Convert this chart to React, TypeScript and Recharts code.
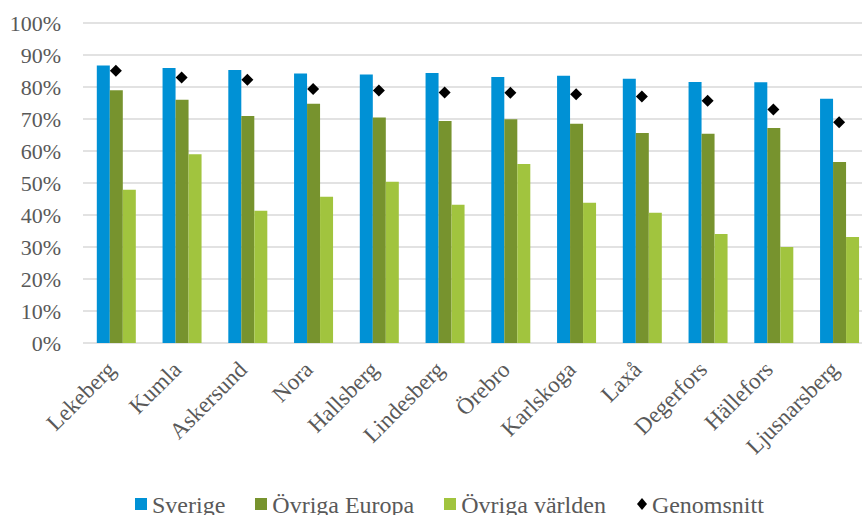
import React from "react";
import { Bar, ComposedChart, Line, XAxis, YAxis, CartesianGrid, Legend } from "recharts";

const categories = ["Lekeberg", "Kumla", "Askersund", "Nora", "Hallsberg", "Lindesberg", "Örebro", "Karlskoga", "Laxå", "Degerfors", "Hällefors", "Ljusnarsberg"];
const sverige = [86.7, 85.9, 85.3, 84.2, 83.9, 84.4, 83.1, 83.5, 82.6, 81.6, 81.5, 76.3];
const ovrigaEuropa = [79.0, 76.0, 70.9, 74.8, 70.5, 69.4, 69.9, 68.5, 65.6, 65.4, 67.2, 56.6];
const ovrigaVarlden = [47.9, 59.0, 41.3, 45.7, 50.4, 43.2, 55.9, 43.8, 40.7, 34.1, 30.0, 33.1];
const genomsnitt = [85.1, 83.0, 82.3, 79.4, 78.9, 78.3, 78.2, 77.7, 77.0, 75.7, 73.0, 69.0];
const yTicks = [0, 10, 20, 30, 40, 50, 60, 70, 80, 90, 100];

const FONT = "Liberation Serif, Times New Roman, DejaVu Serif, serif";
const TEXT = "#595959";
const series = [
  { key: "sverige", name: "Sverige", color: "#0091D5" },
  { key: "europa", name: "Övriga Europa", color: "#77932E" },
  { key: "varlden", name: "Övriga världen", color: "#A1C43E" },
];

const data = categories.map((c, i) => ({
  name: c,
  sverige: sverige[i],
  europa: ovrigaEuropa[i],
  varlden: ovrigaVarlden[i],
  snitt: genomsnitt[i],
}));

function Diamond(props: any) {
  const { cx, cy, index } = props;
  if (cx == null || cy == null) return null;
  const r = 6;
  return <path key={index} d={`M${cx},${cy - r}L${cx + r},${cy}L${cx},${cy + r}L${cx - r},${cy}Z`} fill="#000" />;
}

// rotated category label, baseline end placed just below-right of the tick
function CityTick(props: any) {
  const { x, y, payload } = props;
  return (
    <g transform={`translate(${x + 1},${y + 20})`}>
      <text transform="rotate(-45)" textAnchor="end" fontFamily={FONT} fontSize={23} fill={TEXT}>
        {payload.value}
      </text>
    </g>
  );
}

function LegendContent() {
  return (
    <div style={{ display: "flex", justifyContent: "flex-start", paddingLeft: 135, fontFamily: FONT, fontSize: 24, color: TEXT, lineHeight: "30px", height: 30 }}>
      {series.map((s) => (
        <div key={s.key} style={{ display: "flex", alignItems: "center", marginRight: 30 }}>
          <span style={{ display: "inline-block", width: 12, height: 12, background: s.color, marginRight: 5, marginTop: -2 }} />
          <span>{s.name}</span>
        </div>
      ))}
      <div style={{ display: "flex", alignItems: "center" }}>
        <svg width={12} height={12} style={{ marginRight: 4, marginTop: -2 }}>
          <path d="M6,0L11,6L6,12L1,6Z" fill="#000" />
        </svg>
        <span>Genomsnitt</span>
      </div>
    </div>
  );
}

export default function App() {
  return (
    <div style={{ width: 862, height: 515, background: "#fff", fontFamily: FONT, overflow: "hidden" }}>
      <style>{"body{margin:0}"}</style>
      <ComposedChart width={862} height={515} data={data} margin={{ top: 23, right: -10, bottom: 0, left: 0 }} barCategoryGap="21%" barGap={0}>
        <CartesianGrid vertical={false} stroke="#d9d9d9" strokeWidth={1.5} />
        <XAxis dataKey="name" interval={0} axisLine={false} tickLine={false} height={142} tick={CityTick} />
        <YAxis
          width={83}
          domain={[0, 100]}
          ticks={yTicks}
          interval={0}
          axisLine={false}
          tickLine={false}
          tickMargin={16}
          tickFormatter={(v: number) => `${v}%`}
          tick={{ fontFamily: FONT, fontSize: 22, fill: TEXT }}
        />
        {series.map((s) => (
          <Bar key={s.key} dataKey={s.key} name={s.name} fill={s.color} isAnimationActive={false} />
        ))}
        <Line dataKey="snitt" name="Genomsnitt" stroke="none" dot={Diamond} activeDot={false} isAnimationActive={false} />
        <Legend verticalAlign="bottom" content={LegendContent} wrapperStyle={{ bottom: -5, left: 0, width: 862 }} />
      </ComposedChart>
    </div>
  );
}
